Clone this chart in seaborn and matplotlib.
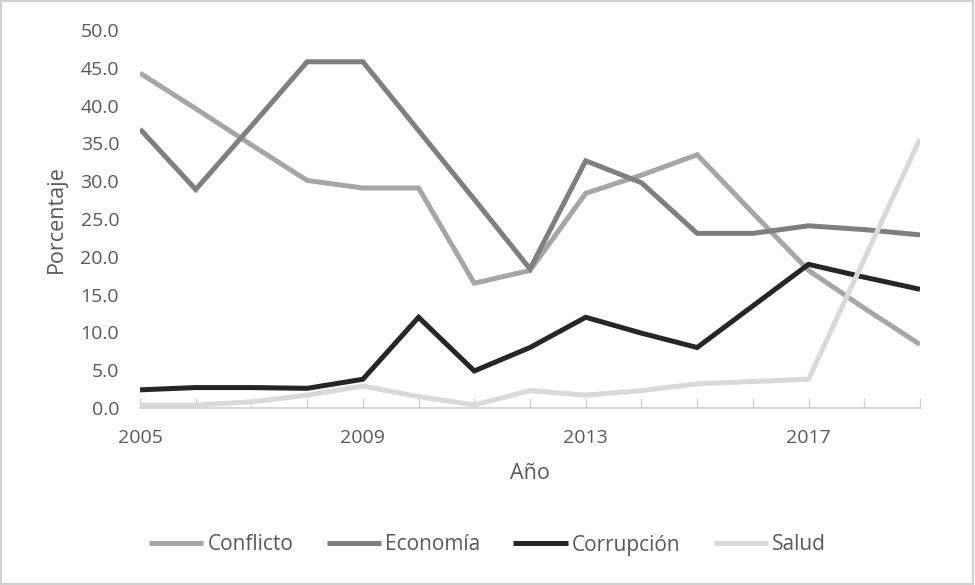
import matplotlib
matplotlib.use("Agg")
import matplotlib.pyplot as plt
import pandas as pd
import seaborn as sns
from matplotlib.patches import Rectangle

years = list(range(2005, 2020))
conflicto = [44.3, 39.6, 34.8, 30.1, 29.1, 29.1, 16.5, 18.2, 28.4, 30.8, 33.5, 25.8, 18.2, 13.2, 8.4]
economia = [36.9, 28.9, 37.3, 45.8, 45.8, 36.7, 27.6, 18.4, 32.7, 29.8, 23.1, 23.1, 24.1, 23.6, 22.9]
corrupcion = [2.4, 2.7, 2.7, 2.6, 3.8, 12.0, 4.9, 8.0, 12.0, 9.9, 8.0, 13.5, 19.0, 17.3, 15.7]
salud = [0.4, 0.4, 0.8, 1.7, 2.9, 1.5, 0.4, 2.3, 1.7, 2.3, 3.2, 3.5, 3.8, 19.7, 35.6]

series_names = ["Conflicto", "Economía", "Corrupción", "Salud"]
series_values = [conflicto, economia, corrupcion, salud]
series_colors = ["#a6a6a6", "#7f7f7f", "#262626", "#d9d9d9"]
tick_years = [2005, 2009, 2013, 2017]

df = pd.DataFrame({"Año": years})
for name, vals in zip(series_names, series_values):
    df[name] = vals
long_df = df.melt(id_vars="Año", var_name="Tema", value_name="Porcentaje")

sns.set_theme(style="white")
plt.rcParams["font.family"] = ["Open Sans", "DejaVu Sans"]

fig = plt.figure(figsize=(9.75, 5.85), dpi=100)
ax = fig.add_axes([0.1436, 0.3026, 0.80, 0.6461])

sns.lineplot(
    data=long_df,
    x="Año",
    y="Porcentaje",
    hue="Tema",
    hue_order=series_names,
    palette=series_colors,
    linewidth=3.6,
    ax=ax,
)
for line in ax.lines:
    line.set_solid_joinstyle("miter")
    line.set_solid_capstyle("butt")

ax.set_xlim(2005, 2019)
ax.set_ylim(0, 50)
ax.set_yticks([i * 5 for i in range(11)])
ax.set_yticklabels([f"{i * 5:.1f}" for i in range(11)])
ax.set_xticks(years, minor=True)
ax.set_xticks(tick_years)
ax.tick_params(axis="both", labelsize=14, colors="#595959", length=0)
ax.tick_params(axis="x", which="both", bottom=True, direction="in", length=7,
               width=1, color="#d0d0d0", labelcolor="#595959", pad=15)
ax.tick_params(axis="y", left=False, pad=15)

for side in ["left", "right", "top"]:
    ax.spines[side].set_visible(False)
ax.spines["bottom"].set_color("#d0d0d0")
ax.spines["bottom"].set_linewidth(1.2)

ax.set_xlabel("Año", fontsize=15.5, color="#595959", labelpad=12)
ax.set_ylabel("Porcentaje", fontsize=15.5, color="#595959", labelpad=10)

handles, labels = ax.get_legend_handles_labels()
ax.legend_.remove()
fig.legend(
    handles,
    labels,
    loc="center",
    bbox_to_anchor=(0.5, 1 - 545 / 585),
    ncol=4,
    frameon=False,
    fontsize=15,
    handlelength=2.6,
    handletextpad=0.2,
    columnspacing=1.6,
    labelcolor="#595959",
)

fig.patches.append(Rectangle((0.001, 0.001), 0.997, 0.997, transform=fig.transFigure,
                             fill=False, edgecolor="#d0d0d0", linewidth=1.5))

fig.savefig("out.png", dpi=100)
